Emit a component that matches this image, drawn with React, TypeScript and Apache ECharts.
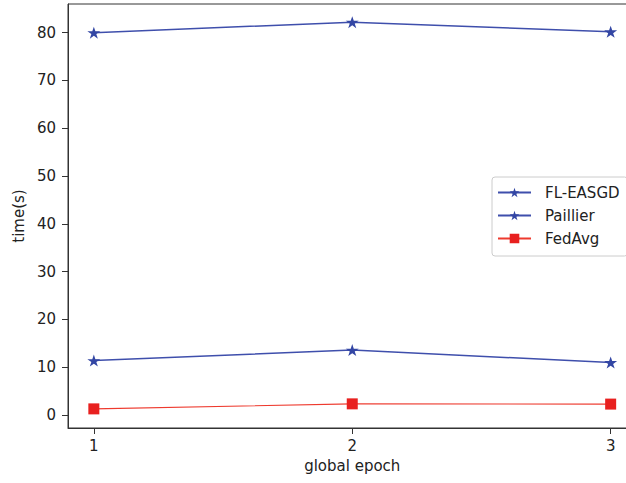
import React, { useEffect, useRef } from "react";
import * as echarts from "echarts";

const epochs = [1, 2, 3];
const flEasgd = [11.4, 13.6, 11.0];
const paillier = [80.0, 82.2, 80.2];
const fedAvg = [1.3, 2.35, 2.3];
const yTicks = [0, 10, 20, 30, 40, 50, 60, 70, 80];
const xTicks = [1, 2, 3];

const STAR =
  "path://M100,0 L122.45,69.1 L195.1,69.1 L136.3,111.8 L158.8,180.9 L100,138.2 L41.2,180.9 L63.7,111.8 L4.9,69.1 L77.55,69.1 Z";

const BLUE = "#3346a4";
const RED = "#e8201f";
const FONT = "DejaVu Sans";
const CHART_W = 660;

export default function App() {
  const ref = useRef<HTMLDivElement>(null);
  useEffect(() => {
    if (!ref.current) return;
    const chart = echarts.init(ref.current, undefined, { renderer: "svg" });
    const pts = (ys: number[]) => epochs.map((x, i) => [x, ys[i]]);
    chart.setOption({
      animation: false,
      backgroundColor: "#ffffff",
      textStyle: { fontFamily: FONT },
      grid: {
        left: 68,
        top: 4,
        right: CHART_W - 636.5,
        bottom: 55,
        show: true,
        borderColor: "#333",
        borderWidth: 1,
        backgroundColor: "transparent",
      },
      legend: {
        orient: "vertical",
        left: 492,
        top: 177,
        padding: [8, 8, 10, 5],
        itemWidth: 33,
        itemHeight: 12,
        itemGap: 8,
        borderColor: "#cccccc",
        borderWidth: 1,
        borderRadius: 3,
        backgroundColor: "#ffffff",
        textStyle: {
          fontFamily: FONT,
          fontSize: 15,
          color: "#222",
          padding: [0, 0, 0, 9],
        },
        data: ["FL-EASGD", "Paillier", "FedAvg"],
      },
      xAxis: {
        type: "value",
        min: 0.9,
        max: 3.1,
        name: "global epoch",
        nameLocation: "middle",
        nameGap: 30,
        nameTextStyle: { fontFamily: FONT, fontSize: 15, color: "#222" },
        splitLine: { show: false },
        axisLine: { show: true, onZero: false, lineStyle: { color: "#333", width: 1 } },
        axisTick: {
          show: true,
          length: 6,
          customValues: xTicks,
          lineStyle: { color: "#333" },
        },
        axisLabel: {
          customValues: xTicks,
          margin: 10,
          fontFamily: FONT,
          fontSize: 15,
          color: "#222",
        },
      },
      yAxis: {
        type: "value",
        min: -2.7,
        max: 86,
        name: "time(s)",
        nameLocation: "middle",
        nameGap: 39,
        nameTextStyle: { fontFamily: FONT, fontSize: 15, color: "#222" },
        splitLine: { show: false },
        axisLine: { show: true, onZero: false, lineStyle: { color: "#333", width: 1 } },
        axisTick: {
          show: true,
          length: 6,
          customValues: yTicks,
          lineStyle: { color: "#333" },
        },
        axisLabel: {
          customValues: yTicks,
          margin: 12,
          fontFamily: FONT,
          fontSize: 15,
          color: "#222",
        },
      },
      series: [
        {
          name: "FL-EASGD",
          type: "line",
          data: pts(flEasgd),
          symbol: STAR,
          symbolSize: [13, 12],
          itemStyle: { color: BLUE },
          lineStyle: { color: "#3f4fac", width: 1.5 },
        },
        {
          name: "Paillier",
          type: "line",
          data: pts(paillier),
          symbol: STAR,
          symbolSize: [13, 12],
          itemStyle: { color: BLUE },
          lineStyle: { color: "#3f4fac", width: 1.5 },
        },
        {
          name: "FedAvg",
          type: "line",
          data: pts(fedAvg),
          symbol: "rect",
          symbolSize: 11,
          itemStyle: { color: RED },
          lineStyle: { color: "#ee3a2e", width: 1.2 },
        },
      ],
    });
    return () => chart.dispose();
  }, []);
  return (
    <div
      style={{
        position: "fixed",
        left: 0,
        top: 0,
        width: 626,
        height: 483,
        overflow: "hidden",
      }}
    >
      <div ref={ref} style={{ width: CHART_W, height: 483 }} />
    </div>
  );
}
